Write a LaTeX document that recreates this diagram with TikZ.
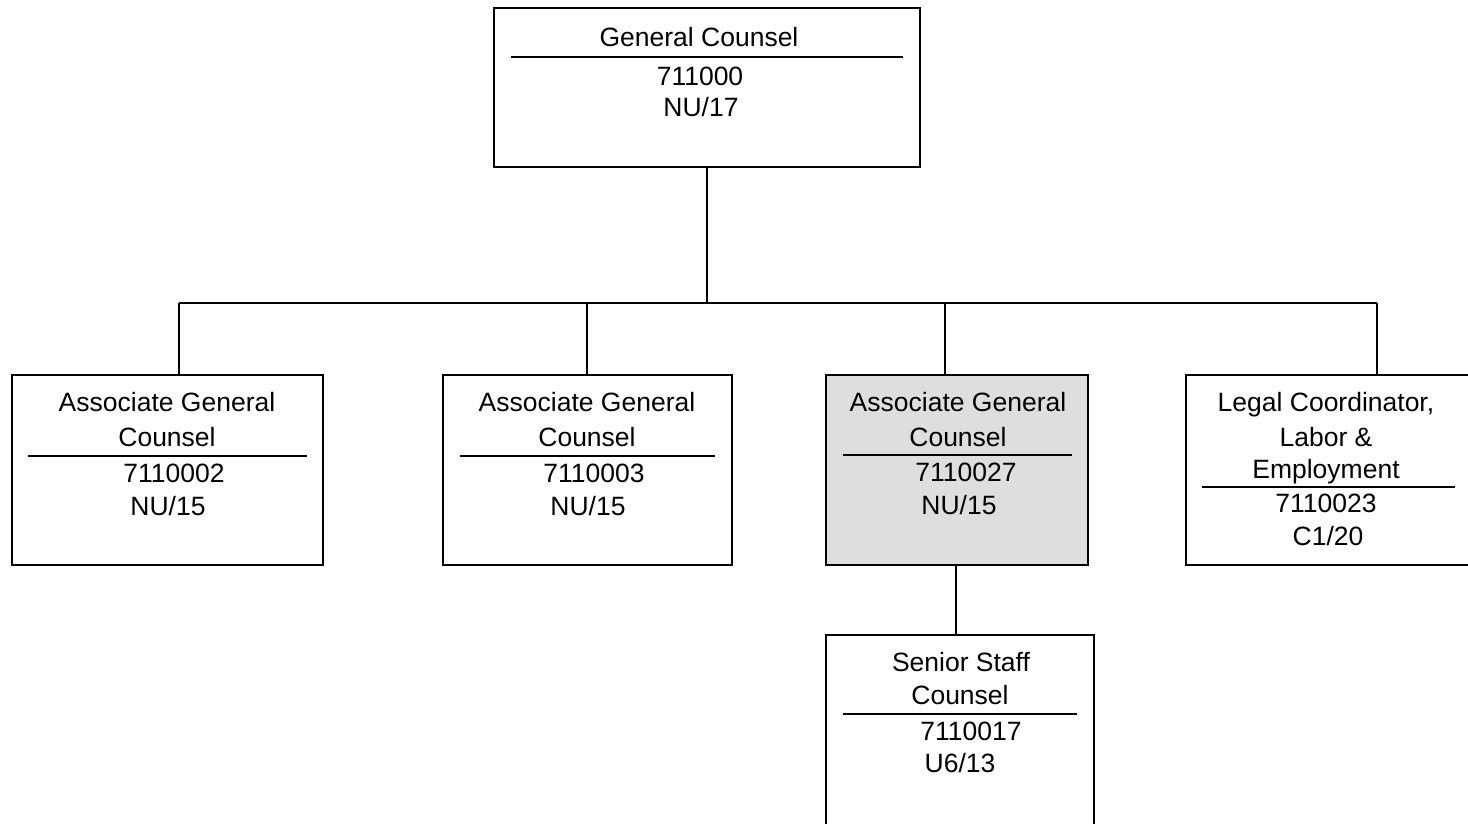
\documentclass[tikz,border=0pt]{standalone}
\usepackage{fontspec}
\setmainfont{Liberation Sans}
\begin{document}
\begin{tikzpicture}[x=1pt,y=-1pt,
  box/.style={draw,line width=2.6pt,inner sep=0pt,outer sep=0pt},
  shaded/.style={box,fill=black!13},
  conn/.style={line width=2pt},
  divline/.style={line width=1.6pt},
  txt/.style={font=\fontsize{26.5}{31}\selectfont,inner sep=0pt,anchor=base}]
\useasboundingbox (0,0) rectangle (1468,823);
\clip (0,0) rectangle (1468,823);
% boxes
\node[box,minimum width=426pt,minimum height=159pt] (gc) at (707,87.5) {};
\node[box,minimum width=311pt,minimum height=190pt] (b1) at (167.5,470) {};
\node[box,minimum width=289pt,minimum height=190pt] (b2) at (587.5,470) {};
\node[shaded,minimum width=262pt,minimum height=190pt] (b3) at (957,470) {};
\node[box,minimum width=300pt,minimum height=190pt] (b4) at (1336,470) {};
\node[box,minimum width=268pt,minimum height=220pt] (b5) at (960,745) {};
% dividers
\draw[divline] (511,57) -- (903,57);
\draw[divline] (28,456) -- (307,456);
\draw[divline] (460,456) -- (715,456);
\draw[divline] (843,455) -- (1072,455);
\draw[divline] (1202,487) -- (1455,487);
\draw[divline] (843,714) -- (1077,714);
% texts
\node[txt] (gct) at (699,46) {General Counsel};
\node[txt] (gcn) at (700,85) {711000};
\node[txt] (gcg) at (701,116) {NU/17};
\node[txt] (b1t1) at (167,411) {Associate General};
\node[txt] (b1t2) at (167,446) {Counsel};
\node[txt] (b1n) at (174,482) {7110002};
\node[txt] (b1g) at (168,515) {NU/15};
\node[txt] (b2t1) at (587,411) {Associate General};
\node[txt] (b2t2) at (587,446) {Counsel};
\node[txt] (b2n) at (594,482) {7110003};
\node[txt] (b2g) at (588,515) {NU/15};
\node[txt] (b3t1) at (958,411) {Associate General};
\node[txt] (b3t2) at (958,446) {Counsel};
\node[txt] (b3n) at (966,481) {7110027};
\node[txt] (b3g) at (959,514) {NU/15};
\node[txt] (b4t1) at (1326,411) {Legal Coordinator,};
\node[txt] (b4t2) at (1326,446) {Labor \&};
\node[txt] (b4t3) at (1326,478) {Employment};
\node[txt] (b4n) at (1326,512) {7110023};
\node[txt] (b4g) at (1328,545) {C1/20};
\node[txt] (b5t1) at (961,671) {Senior Staff};
\node[txt] (b5t2) at (960,704) {Counsel};
\node[txt] (b5n) at (971,740) {7110017};
\node[txt] (b5g) at (960,772) {U6/13};
% connectors
\coordinate (j0) at (707,303);
\coordinate (hL) at (179,303);
\coordinate (h2) at (587,303);
\coordinate (h3) at (945,303);
\coordinate (hR) at (1377,303);
\coordinate (v5) at (956,600);
\draw[conn] (gc.south) -- (j0);
\draw[conn] (hL) -- (hR);
\draw[conn] (hL) -- (hL |- b1.north);
\draw[conn] (h2) -- (h2 |- b2.north);
\draw[conn] (h3) -- (h3 |- b3.north);
\draw[conn] (hR) -- (hR |- b4.north);
\draw[conn] (v5 |- b3.south) -- (v5 |- b5.north);
\end{tikzpicture}
\end{document}
